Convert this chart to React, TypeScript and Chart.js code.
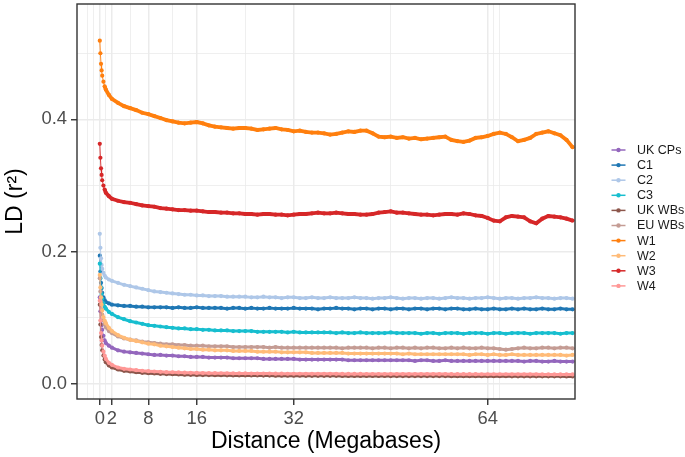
import React, { useEffect, useRef } from 'react';
import { Chart, registerables } from 'chart.js';

Chart.register(...registerables);

// Distance (Megabases) sampled along the x axis
const DIST = [
  0, 0.1, 0.2, 0.3, 0.4, 0.6, 0.8, 1, 1.5, 2, 3,
  4, 5, 6, 7, 8, 9, 10, 11, 12, 13,
  14, 15, 16, 17, 18, 19, 20, 21, 22, 23,
  24, 25, 26, 27, 28, 29, 30, 31, 32, 33,
  34, 35, 36, 37, 38, 39, 40, 41, 42, 43,
  44, 45, 46, 47, 48, 49, 50, 51, 52, 53,
  54, 55, 56, 57, 58, 59, 60, 61, 62, 63,
  64, 65, 66, 67, 68, 69, 70, 71, 72, 73,
  74, 75, 76, 77, 78,
];

const X_GRID = [-2, -1, 0, 1, 2, 5, 8, 12, 16, 24, 32, 48, 64, 65, 66];
const X_LABELS = [0, 2, 8, 16, 32, 64];
const Y_GRID = [0, 0.1, 0.2, 0.3, 0.4, 0.5];
const Y_LABELS = ['0.0', '', '0.2', '', '0.4', ''];

const SERIES_NAMES = ['UK CPs', 'C1', 'C2', 'C3', 'UK WBs', 'EU WBs', 'W1', 'W2', 'W3', 'W4'];
const SERIES_COLORS = ['#9467bd', '#1f77b4', '#aec7e8', '#17becf', '#8c564b', '#c49c94', '#ff7f0e', '#ffbb78', '#d62728', '#ff9896'];

const UK_CPS = [
  0.131, 0.110, 0.096, 0.089, 0.082, 0.073, 0.066, 0.062, 0.058, 0.055, 0.051,
  0.049, 0.048, 0.047, 0.046, 0.045, 0.044, 0.044, 0.043, 0.043, 0.042,
  0.042, 0.041, 0.041, 0.041, 0.040, 0.040, 0.040, 0.040, 0.039, 0.039,
  0.039, 0.039, 0.039, 0.038, 0.038, 0.038, 0.038, 0.038, 0.038, 0.037,
  0.037, 0.037, 0.037, 0.037, 0.037, 0.037, 0.037, 0.036, 0.036, 0.036,
  0.036, 0.036, 0.036, 0.036, 0.036, 0.036, 0.036, 0.036, 0.035, 0.036,
  0.036, 0.035, 0.035, 0.036, 0.035, 0.035, 0.035, 0.035, 0.035, 0.035,
  0.035, 0.035, 0.035, 0.035, 0.035, 0.035, 0.034, 0.035, 0.035, 0.034,
  0.034, 0.035, 0.034, 0.034, 0.034,
];
const C1 = [
  0.194, 0.170, 0.153, 0.145, 0.138, 0.131, 0.127, 0.124, 0.122, 0.120, 0.119,
  0.118, 0.118, 0.117, 0.117, 0.116, 0.116, 0.116, 0.116, 0.115, 0.116,
  0.115, 0.115, 0.116, 0.115, 0.115, 0.115, 0.115, 0.114, 0.115, 0.115,
  0.114, 0.115, 0.114, 0.114, 0.115, 0.114, 0.114, 0.114, 0.115, 0.114,
  0.114, 0.114, 0.113, 0.114, 0.114, 0.115, 0.114, 0.114, 0.113, 0.114,
  0.114, 0.113, 0.114, 0.114, 0.113, 0.114, 0.114, 0.113, 0.114, 0.114,
  0.113, 0.114, 0.114, 0.113, 0.114, 0.114, 0.113, 0.113, 0.114, 0.113,
  0.113, 0.114, 0.113, 0.113, 0.114, 0.113, 0.114, 0.113, 0.113, 0.114,
  0.113, 0.113, 0.114, 0.113, 0.113,
];
const C2 = [
  0.227, 0.206, 0.190, 0.180, 0.174, 0.168, 0.164, 0.161, 0.158, 0.156, 0.153,
  0.150, 0.148, 0.146, 0.144, 0.142, 0.140, 0.139, 0.138, 0.137, 0.136,
  0.135, 0.135, 0.134, 0.134, 0.133, 0.133, 0.133, 0.132, 0.132, 0.132,
  0.132, 0.131, 0.131, 0.132, 0.131, 0.131, 0.130, 0.131, 0.131, 0.130,
  0.130, 0.131, 0.130, 0.130, 0.131, 0.130, 0.130, 0.130, 0.131, 0.130,
  0.130, 0.129, 0.130, 0.130, 0.131, 0.130, 0.129, 0.130, 0.130, 0.129,
  0.130, 0.130, 0.129, 0.130, 0.131, 0.130, 0.130, 0.129, 0.130, 0.130,
  0.131, 0.130, 0.129, 0.130, 0.130, 0.129, 0.130, 0.130, 0.131, 0.130,
  0.130, 0.129, 0.130, 0.130, 0.129,
];
const C3 = [
  0.182, 0.160, 0.146, 0.136, 0.129, 0.122, 0.117, 0.114, 0.109, 0.106, 0.101,
  0.098, 0.095, 0.093, 0.091, 0.089, 0.088, 0.087, 0.086, 0.085, 0.084,
  0.084, 0.083, 0.083, 0.082, 0.082, 0.081, 0.081, 0.081, 0.080, 0.080,
  0.080, 0.080, 0.079, 0.079, 0.079, 0.079, 0.079, 0.078, 0.079, 0.078,
  0.078, 0.078, 0.078, 0.078, 0.078, 0.077, 0.078, 0.077, 0.077, 0.078,
  0.077, 0.077, 0.077, 0.077, 0.078, 0.077, 0.077, 0.077, 0.077, 0.076,
  0.077, 0.077, 0.076, 0.077, 0.077, 0.077, 0.076, 0.077, 0.077, 0.077,
  0.076, 0.077, 0.077, 0.076, 0.077, 0.077, 0.077, 0.076, 0.077, 0.077,
  0.077, 0.077, 0.076, 0.077, 0.077,
];
const UK_WBS = [
  0.120, 0.090, 0.071, 0.059, 0.051, 0.043, 0.037, 0.033, 0.028, 0.025, 0.022,
  0.020, 0.019, 0.018, 0.017, 0.0165, 0.016, 0.0155, 0.015, 0.0148, 0.0145,
  0.0142, 0.014, 0.0138, 0.0136, 0.0135, 0.0134, 0.0133, 0.0132, 0.0131, 0.013,
  0.013, 0.0129, 0.0129, 0.0128, 0.0128, 0.0127, 0.0127, 0.0126, 0.0126, 0.0126,
  0.0125, 0.0125, 0.0125, 0.0124, 0.0124, 0.0124, 0.0123, 0.0123, 0.0123, 0.0123,
  0.0122, 0.0122, 0.0122, 0.0122, 0.0121, 0.0121, 0.0121, 0.0121, 0.012, 0.012,
  0.012, 0.012, 0.012, 0.012, 0.0119, 0.0119, 0.0119, 0.0119, 0.0119, 0.0118,
  0.0118, 0.0118, 0.0118, 0.0118, 0.0117, 0.0117, 0.0117, 0.0117, 0.0117, 0.0116,
  0.0116, 0.0116, 0.0116, 0.0115, 0.0115,
];
const EU_WBS = [
  0.160, 0.140, 0.124, 0.113, 0.105, 0.096, 0.090, 0.086, 0.080, 0.077, 0.072,
  0.069, 0.067, 0.066, 0.064, 0.063, 0.062, 0.061, 0.060, 0.060, 0.059,
  0.059, 0.058, 0.058, 0.058, 0.057, 0.057, 0.057, 0.057, 0.056, 0.056,
  0.056, 0.056, 0.056, 0.056, 0.055, 0.056, 0.055, 0.055, 0.055, 0.055,
  0.055, 0.055, 0.055, 0.055, 0.055, 0.055, 0.054, 0.055, 0.055, 0.055,
  0.055, 0.054, 0.055, 0.055, 0.054, 0.055, 0.055, 0.054, 0.055, 0.054,
  0.055, 0.055, 0.054, 0.054, 0.055, 0.054, 0.055, 0.054, 0.054, 0.055,
  0.054, 0.054, 0.053, 0.052, 0.053, 0.054, 0.055, 0.054, 0.054, 0.055,
  0.055, 0.054, 0.055, 0.055, 0.054,
];
const W1 = [
  0.519, 0.500, 0.484, 0.474, 0.466, 0.457, 0.450, 0.445, 0.437, 0.431, 0.425,
  0.420, 0.417, 0.414, 0.410, 0.408, 0.405, 0.402, 0.399, 0.397, 0.395,
  0.394, 0.395, 0.396, 0.394, 0.391, 0.389, 0.388, 0.387, 0.386, 0.387,
  0.387, 0.386, 0.384, 0.385, 0.386, 0.387, 0.385, 0.384, 0.382, 0.383,
  0.381, 0.380, 0.380, 0.379, 0.377, 0.378, 0.380, 0.382, 0.381, 0.383,
  0.383, 0.379, 0.374, 0.373, 0.374, 0.372, 0.373, 0.371, 0.372, 0.370,
  0.371, 0.372, 0.373, 0.374, 0.369, 0.367, 0.366, 0.368, 0.372, 0.373,
  0.375, 0.378, 0.380, 0.378, 0.373, 0.367, 0.369, 0.372, 0.378, 0.380,
  0.382, 0.379, 0.376, 0.369, 0.358,
];
const W2 = [
  0.165, 0.146, 0.131, 0.120, 0.111, 0.101, 0.096, 0.092, 0.085, 0.080, 0.074,
  0.070, 0.067, 0.065, 0.063, 0.061, 0.060, 0.058, 0.057, 0.056, 0.055,
  0.054, 0.053, 0.053, 0.052, 0.052, 0.051, 0.051, 0.051, 0.050, 0.050,
  0.050, 0.050, 0.049, 0.049, 0.049, 0.049, 0.048, 0.048, 0.048, 0.048,
  0.048, 0.047, 0.047, 0.047, 0.047, 0.047, 0.047, 0.046, 0.046, 0.046,
  0.046, 0.046, 0.046, 0.046, 0.046, 0.046, 0.045, 0.046, 0.045, 0.045,
  0.045, 0.045, 0.045, 0.045, 0.045, 0.045, 0.045, 0.044, 0.045, 0.045,
  0.044, 0.045, 0.044, 0.044, 0.045, 0.044, 0.044, 0.044, 0.044, 0.044,
  0.044, 0.044, 0.044, 0.043, 0.044,
];
const W3 = [
  0.363, 0.342, 0.326, 0.316, 0.308, 0.300, 0.294, 0.289, 0.284, 0.280, 0.277,
  0.275, 0.274, 0.272, 0.270, 0.269, 0.268, 0.266, 0.265, 0.264, 0.263,
  0.263, 0.262, 0.262, 0.261, 0.260, 0.260, 0.259, 0.259, 0.258, 0.258,
  0.257, 0.257, 0.256, 0.257, 0.257, 0.256, 0.256, 0.255, 0.256, 0.257,
  0.257, 0.258, 0.259, 0.258, 0.258, 0.259, 0.258, 0.257, 0.257, 0.256,
  0.256, 0.257, 0.259, 0.260, 0.261, 0.259, 0.259, 0.258, 0.257, 0.256,
  0.256, 0.255, 0.256, 0.257, 0.257, 0.256, 0.258, 0.257, 0.255, 0.254,
  0.251, 0.247, 0.246, 0.252, 0.254, 0.253, 0.252, 0.246, 0.243, 0.250,
  0.254, 0.253, 0.252, 0.250, 0.247,
];
const W4 = [
  0.126, 0.096, 0.077, 0.066, 0.058, 0.049, 0.043, 0.038, 0.032, 0.029, 0.025,
  0.023, 0.022, 0.021, 0.020, 0.0195, 0.019, 0.0185, 0.018, 0.0178, 0.0175,
  0.0172, 0.017, 0.0168, 0.0166, 0.0165, 0.0164, 0.0163, 0.0162, 0.0161, 0.016,
  0.016, 0.0159, 0.0159, 0.0158, 0.0158, 0.0157, 0.0157, 0.0156, 0.0156, 0.0156,
  0.0155, 0.0155, 0.0155, 0.0154, 0.0154, 0.0154, 0.0153, 0.0153, 0.0153, 0.0153,
  0.0152, 0.0152, 0.0152, 0.0152, 0.0151, 0.0151, 0.0151, 0.0151, 0.015, 0.015,
  0.015, 0.015, 0.015, 0.015, 0.0149, 0.0149, 0.0149, 0.0149, 0.0149, 0.0148,
  0.0148, 0.0148, 0.0148, 0.0148, 0.0147, 0.0147, 0.0147, 0.0147, 0.0147, 0.0146,
  0.0146, 0.0146, 0.0146, 0.0145, 0.0145,
];

const SERIES_VALUES = [UK_CPS, C1, C2, C3, UK_WBS, EU_WBS, W1, W2, W3, W4];

const FONT = '"Liberation Sans", Arial, Helvetica, sans-serif';

const panelBorder = {
  id: 'panelBorder',
  afterDatasetsDraw(chart: any) {
    const { ctx, chartArea } = chart;
    ctx.save();
    ctx.strokeStyle = '#333333';
    ctx.lineWidth = 1.4;
    ctx.strokeRect(chartArea.left, chartArea.top, chartArea.right - chartArea.left, chartArea.bottom - chartArea.top);
    ctx.restore();
  },
};

const sideLegend = {
  id: 'sideLegend',
  afterDraw(chart: any) {
    const { ctx } = chart;
    ctx.save();
    chart.data.datasets.forEach((ds: any, i: number) => {
      const y = 150 + i * 15.1;
      ctx.strokeStyle = ds.borderColor;
      ctx.lineWidth = 1.5;
      ctx.beginPath();
      ctx.moveTo(611.5, y);
      ctx.lineTo(625.5, y);
      ctx.stroke();
      ctx.fillStyle = ds.borderColor;
      ctx.beginPath();
      ctx.arc(618.5, y, 2.2, 0, Math.PI * 2);
      ctx.fill();
      ctx.fillStyle = '#1a1a1a';
      ctx.font = `12.5px ${FONT}`;
      ctx.textBaseline = 'middle';
      ctx.textAlign = 'left';
      ctx.fillText(ds.label, 637, y + 0.5);
    });
    ctx.restore();
  },
};

export default function App() {
  const canvasRef = useRef<HTMLCanvasElement | null>(null);

  useEffect(() => {
    if (!canvasRef.current) return;
    const n = SERIES_NAMES.length;
    const chart = new Chart(canvasRef.current, {
      type: 'line',
      data: {
        datasets: SERIES_NAMES.map((name, i) => ({
          label: name,
          data: DIST.map((d, j) => ({ x: d, y: SERIES_VALUES[i][j] })),
          borderColor: SERIES_COLORS[i],
          backgroundColor: SERIES_COLORS[i],
          pointBackgroundColor: SERIES_COLORS[i],
          pointRadius: 2.1,
          pointBorderWidth: 0,
          borderWidth: 3,
          tension: 0,
          order: n - i,
          clip: 0,
          segment: {
            borderWidth: (ctx: any) => (ctx.p0.parsed.x < 0.8 ? 0.9 : i === 6 || i === 8 ? 3.8 : 3),
          },
        })),
      },
      options: {
        animation: false,
        responsive: false,
        devicePixelRatio: 1,
        layout: { padding: { top: 2, right: 110, left: 0, bottom: 0 } },
        plugins: {
          legend: { display: false },
          tooltip: { enabled: false },
        },
        scales: {
          x: {
            type: 'linear',
            min: -3.76,
            max: 78.4,
            afterBuildTicks: (scale: any) => {
              scale.ticks = X_GRID.map((v) => ({ value: v }));
            },
            afterFit: (scale: any) => {
              scale.height = 58;
              scale.paddingLeft = 0;
              scale.paddingRight = 0;
            },
            ticks: {
              autoSkip: false,
              maxRotation: 0,
              padding: 3,
              color: '#4D4D4D',
              font: { family: FONT, size: 18.4 },
              callback: (v: any) => (X_LABELS.includes(Number(v)) ? String(v) : ''),
            },
            grid: {
              color: '#EBEBEB',
              lineWidth: (ctx: any) => (ctx.tick && X_LABELS.includes(ctx.tick.value) ? 1.5 : 0.8),
              tickColor: (ctx: any) => (ctx.tick && X_LABELS.includes(ctx.tick.value) ? '#333333' : 'rgba(0,0,0,0)'),
              tickLength: 6,
              tickWidth: 1.4,
            },
            border: { display: false },
            title: {
              display: true,
              text: 'Distance (Megabases)',
              color: '#000000',
              font: { family: FONT, size: 23 },
              padding: { top: 0, bottom: 2 },
            },
          },
          y: {
            type: 'linear',
            min: -0.0226,
            max: 0.5744,
            afterBuildTicks: (scale: any) => {
              scale.ticks = Y_GRID.map((v) => ({ value: v }));
            },
            afterFit: (scale: any) => {
              scale.width = 77;
              scale.paddingTop = 0;
              scale.paddingBottom = 0;
            },
            ticks: {
              autoSkip: false,
              padding: 4,
              color: '#4D4D4D',
              font: { family: FONT, size: 18.4 },
              callback: (_v: any, idx: number) => Y_LABELS[idx],
            },
            grid: {
              color: '#EBEBEB',
              lineWidth: (ctx: any) => (ctx.index % 2 === 0 ? 1.5 : 0.8),
              tickColor: (ctx: any) => (ctx.index % 2 === 0 ? '#333333' : 'rgba(0,0,0,0)'),
              tickLength: 6,
              tickWidth: 1.4,
            },
            border: { display: false },
            title: {
              display: true,
              text: 'LD (r²)',
              color: '#000000',
              font: { family: FONT, size: 23 },
              padding: { top: 2, bottom: 0 },
            },
          },
        },
      } as any,
      plugins: [panelBorder, sideLegend],
    });
    return () => chart.destroy();
  }, []);

  return (
    <div style={{ position: 'fixed', left: 0, top: 0, width: 685, height: 457, background: '#ffffff' }}>
      <canvas ref={canvasRef} width={685} height={457} style={{ display: 'block', width: 685, height: 457 }} />
    </div>
  );
}
